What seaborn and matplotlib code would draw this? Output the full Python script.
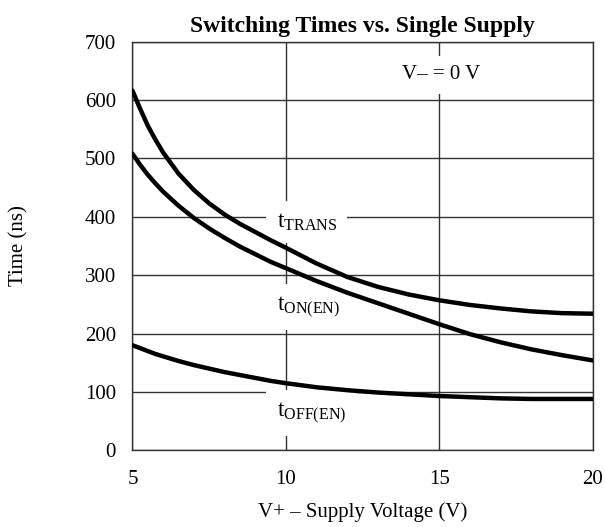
import matplotlib
matplotlib.use("Agg")
import matplotlib.pyplot as plt
import seaborn as sns
import pandas as pd

# Values
supply_v = [5, 5.25, 5.5, 5.75, 6, 6.5, 7, 7.5, 8, 8.5, 9, 9.5, 10, 11, 12, 13, 14, 15, 16, 17, 18, 19, 20]
t_trans = [616, 585, 556, 532, 510, 474, 446, 423, 404, 388, 374, 360, 347, 320, 297, 280, 267, 257, 249, 243, 238, 235, 234]
t_on_en = [508, 489, 472, 457, 443, 419, 398, 380, 364, 349, 336, 323, 312, 290, 270, 252, 234, 216, 199, 185, 173, 163, 154]
t_off_en = [180, 175, 170, 165, 161, 153, 146, 140, 134, 129, 124, 119, 115, 108, 103, 99, 96, 93, 91, 89, 88, 88, 88]

x_ticks = [5, 10, 15, 20]
y_ticks = [0, 100, 200, 300, 400, 500, 600, 700]

sns.set_style("white")
plt.rcParams["font.family"] = ["Liberation Serif", "DejaVu Serif"]
plt.rcParams["mathtext.fontset"] = "custom"
plt.rcParams["mathtext.rm"] = "Liberation Serif"
for key in ["text.color", "axes.labelcolor", "xtick.color", "ytick.color"]:
    plt.rcParams[key] = "black"

df = pd.DataFrame({
    "V": supply_v * 3,
    "t": t_trans + t_on_en + t_off_en,
    "curve": ["trans"] * len(supply_v) + ["on"] * len(supply_v) + ["off"] * len(supply_v),
})

fig = plt.figure(figsize=(6.05, 5.27), dpi=100)
ax = fig.add_axes([0.219, 0.1455, 0.7607, 0.7754])

sns.lineplot(data=df, x="V", y="t", hue="curve", palette=["black"] * 3,
             linewidth=3.2, legend=False, ax=ax, zorder=3)

ax.set_xlim(5, 20)
ax.set_ylim(0, 700)
ax.set_xticks(x_ticks)
ax.set_yticks(y_ticks)
ax.grid(True, color="#333333", linewidth=1.0)
ax.set_axisbelow(True)
for s in ax.spines.values():
    s.set_color("#333333")
    s.set_linewidth(1.0)
ax.tick_params(axis="x", length=0, pad=14.5, labelsize=15)
ax.tick_params(axis="y", length=0, pad=12, labelsize=15)

ax.set_title("Switching Times vs. Single Supply", fontsize=17, fontweight="bold", pad=7)
ax.set_xlabel("V+ \u2013 Supply Voltage (V)", fontsize=15)
ax.set_ylabel("Time (ns)", fontsize=15)
ax.xaxis.set_label_coords(0.5, -0.128)
ax.yaxis.set_label_coords(-0.227, 0.5)

box = dict(boxstyle="square,pad=0.45", facecolor="white", edgecolor="none")
ax.text(15.05, 643, "V\u2013 = 0 V", fontsize=15, ha="center", va="center", bbox=box, zorder=2)
ax.text(9.7, 391, r"t$_{\mathrm{TRANS}}$", fontsize=16.5, ha="left", va="center", bbox=box, zorder=2)
ax.text(9.7, 246, r"t$_{\mathrm{ON(EN)}}$", fontsize=16.5, ha="left", va="center", bbox=box, zorder=2)
ax.text(9.7, 64, r"t$_{\mathrm{OFF(EN)}}$", fontsize=16.5, ha="left", va="center", bbox=box, zorder=2)

fig.savefig("out.png", dpi=100)
